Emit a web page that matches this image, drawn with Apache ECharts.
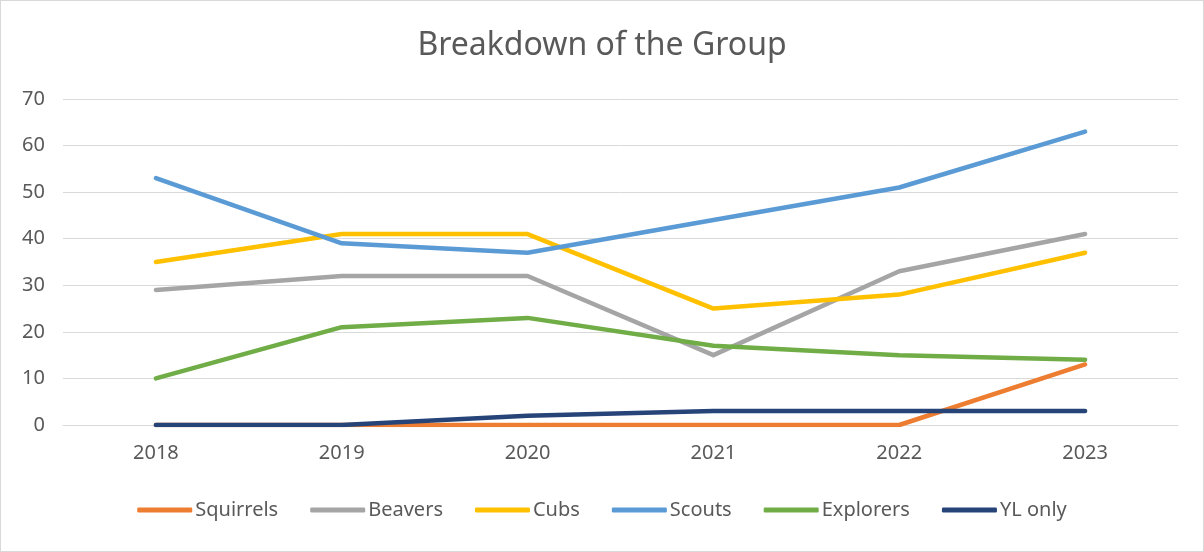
<!DOCTYPE html>
<html>
<head>
    <meta charset="utf-8">
    <title>Breakdown of the Group</title>
    <style>
        html, body { margin: 0; padding: 0; background: #fff; }
        #main { width: 1202px; height: 550px; border: 1px solid #d9d9d9; }
    </style>
</head>
<body>
<div id="main"></div>
</body>
<script src="https://cdn.jsdelivr.net/npm/echarts@6/dist/echarts.min.js" type="text/javascript"></script>
<script type="text/javascript">

var years = ['2018', '2019', '2020', '2021', '2022', '2023'];
var squirrels = [0, 0, 0, 0, 0, 13];
var beavers = [29, 32, 32, 15, 33, 41];
var cubs = [35, 41, 41, 25, 28, 37];
var scouts = [53, 39, 37, 44, 51, 63];
var explorers = [10, 21, 23, 17, 15, 14];
var ylOnly = [0, 0, 2, 3, 3, 3];

var names = ['Squirrels', 'Beavers', 'Cubs', 'Scouts', 'Explorers', 'YL only'];
var colors = ['#ED7D31', '#A5A5A5', '#FFC000', '#5B9BD5', '#70AD47', '#264478'];
var values = [squirrels, beavers, cubs, scouts, explorers, ylOnly];

var myChart = echarts.init(document.getElementById('main'));

var series = [];
for (var i = 0; i < names.length; i++) {
    series.push({
        name: names[i],
        type: 'line',
        data: values[i],
        symbol: 'none',
        lineStyle: { width: 4.5, color: colors[i], cap: 'round', join: 'round' },
        itemStyle: { color: colors[i] }
    });
}

var font = "'Noto Sans', sans-serif";

var option = {
    animation: false,
    textStyle: { fontFamily: font },
    title: {
        text: 'Breakdown of the Group',
        left: 'center',
        top: 24,
        textStyle: { fontSize: 32, fontWeight: 'normal', color: '#595959', fontFamily: font }
    },
    legend: {
        top: 494,
        left: 'center',
        icon: 'roundRect',
        itemWidth: 55,
        itemHeight: 5,
        itemGap: 32,
        textStyle: { fontSize: 20, color: '#595959', padding: [0, 0, 0, -2] },
        data: names
    },
    grid: { left: 62, right: 25, top: 98, bottom: 126 },
    xAxis: {
        type: 'category',
        data: years,
        boundaryGap: true,
        axisLine: { lineStyle: { color: '#d9d9d9', width: 1 } },
        axisTick: { show: false },
        axisLabel: { fontSize: 20, color: '#595959', margin: 18 }
    },
    yAxis: {
        type: 'value',
        min: 0,
        max: 70,
        interval: 10,
        axisLine: { show: false },
        axisTick: { show: false },
        axisLabel: { fontSize: 20, color: '#595959', margin: 18 },
        splitLine: { lineStyle: { color: '#d9d9d9', width: 1 } }
    },
    series: series
};

myChart.setOption(option);
</script>
</html>
